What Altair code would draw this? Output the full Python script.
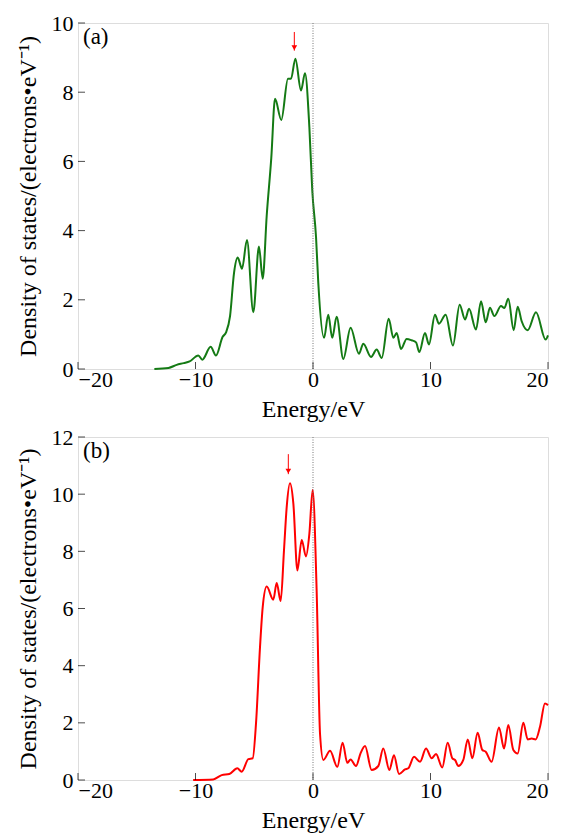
import altair as alt
import pandas as pd

# ---- data ----
a_energy = [-13.5, -12.3, -11.6, -11.0, -10.5, -9.76, -9.42, -8.71, -8.26, -7.69, -7.4, -7.06,
            -6.72, -6.41, -6.04, -5.62, -5.08, -4.6, -4.28, -3.94, -3.55, -3.23, -2.70, -2.13,
            -1.87, -1.5, -1.02, -0.68, -0.31, -0.06, 0.26, 0.45, 0.94, 1.3, 1.64, 2.01, 2.58,
            3.2, 3.91, 4.28, 4.94, 5.42, 5.85, 6.44, 6.84, 7.12, 7.49, 7.97, 8.4, 8.77, 9.05,
            9.53, 9.87, 10.38, 10.72, 11.29, 11.91, 12.48, 12.94, 13.28, 13.87, 14.3, 14.7,
            15.06, 15.43, 16.0, 16.28, 16.62, 17.08, 17.42, 17.76, 18.27, 18.98, 19.8, 20.0]
a_dos = [0.0, 0.03, 0.12, 0.17, 0.22, 0.39, 0.27, 0.64, 0.39, 0.93, 1.06, 1.53,
         2.78, 3.22, 2.9, 3.73, 1.64, 3.54, 2.61, 4.43, 6.1, 7.81, 7.2, 8.39,
         8.39, 8.97, 8.05, 8.55, 6.99, 5.15, 3.8, 2.49, 0.9, 1.57, 0.9, 1.51, 0.29,
         1.19, 0.44, 0.73, 0.35, 0.56, 0.32, 1.45, 0.9, 1.04, 0.58, 0.87, 0.83, 0.77, 0.49,
         1.04, 0.71, 1.57, 1.31, 1.57, 0.68, 1.86, 1.43, 1.74, 1.14, 1.96, 1.35,
         1.77, 1.53, 1.82, 1.76, 2.03, 1.12, 1.8, 1.38, 1.12, 1.64, 0.85, 0.97]

b_energy = [-10.2, -8.5, -7.77, -7.12, -6.44, -6.07, -5.5, -5.13, -4.85, -4.51, -4.28, -3.94,
            -3.38, -3.09, -2.75, -2.47, -2.24, -1.96, -1.67, -1.33, -0.96, -0.6, -0.31, -0.03,
            0.31, 0.6, 0.88, 1.45, 2.07, 2.52, 2.92, 3.2, 3.66, 4.06, 4.43, 4.99, 5.56, 5.98,
            6.5, 6.89, 7.32, 7.83, 8.11, 8.6, 9.11, 9.62, 10.1, 10.47, 11.0, 11.46, 11.86,
            12.09, 12.37, 12.79, 13.17, 13.56, 14.01, 14.41, 14.7, 15.2, 15.83, 16.26, 16.62,
            17.05, 17.42, 17.9, 18.27, 18.61, 18.95, 19.32, 19.74, 20.0]
b_dos = [0.0, 0.02, 0.17, 0.21, 0.41, 0.29, 0.73, 0.76, 1.98, 4.65, 6.05, 6.77,
         6.31, 6.89, 6.26, 8.03, 9.54, 10.38, 9.66, 7.33, 8.4, 7.82, 8.61, 10.15,
         6.63, 1.6, 0.7, 1.02, 0.46, 1.3, 0.6, 0.72, 0.49, 0.95, 1.19, 0.35, 0.49, 1.1,
         0.35, 0.87, 0.21, 0.37, 0.41, 0.81, 0.64, 1.1, 0.76, 0.91, 0.44, 1.3, 0.76,
         0.7, 0.49, 0.7, 1.42, 0.76, 1.65, 1.05, 0.99, 0.64, 1.84, 1.1, 1.92,
         1.05, 0.93, 2.0, 1.42, 1.45, 1.42, 1.86, 2.68, 2.62]

x_ticks = [-20, -10, 0, 10, 20]
a_y_ticks = [0, 2, 4, 6, 8, 10]
b_y_ticks = [0, 2, 4, 6, 8, 10, 12]

# arrows: energy, top of shaft, tip (in DOS units)
a_arrow = {"E": [-1.59], "D": [9.74], "tip": [9.2]}
b_arrow = {"E": [-2.1], "D": [11.4], "tip": [10.7]}

FONT = "Liberation Serif"
W = 470
Y_TITLE = "Density of states/(electrons\u2022eV\u207b\u00b9)"


def panel(energy, dos, color, ymax, yticks, label, arrow, height):
    xs = alt.Scale(domain=[-20, 20], nice=False, zero=False)
    ys = alt.Scale(domain=[0, ymax], nice=False)
    common = dict(ticks=False, domain=False, grid=False, labelFont=FONT, titleFont=FONT,
                  labelFontSize=22, titleFontSize=24, titleFontWeight="normal",
                  labelColor="black", titleColor="black")
    xaxis = alt.Axis(values=x_ticks, title="Energy/eV", labelPadding=0, titlePadding=7, **common)
    yaxis = alt.Axis(values=yticks, title=Y_TITLE, labelPadding=5, titlePadding=11, **common)
    X = lambda f: alt.X(f"{f}:Q", scale=xs, axis=xaxis, title="Energy/eV")
    Y = lambda f: alt.Y(f"{f}:Q", scale=ys, axis=yaxis, title=Y_TITLE)

    df = pd.DataFrame({"E": energy, "D": dos})
    line = alt.Chart(df).mark_line(color=color, strokeWidth=2, interpolate="monotone").encode(
        x=X("E"), y=Y("D"))
    fermi = alt.Chart(pd.DataFrame({"E": [0]})).mark_rule(
        color="#777777", strokeDash=[1, 1.5], strokeWidth=1
    ).encode(x=X("E"))

    ytk = alt.Chart(pd.DataFrame({"D": yticks})).mark_tick(
        orient="horizontal", size=7, thickness=1, color="black"
    ).encode(y=Y("D"), x=alt.value(3.5))
    xtk = alt.Chart(pd.DataFrame({"E": x_ticks})).mark_tick(
        orient="vertical", size=7, thickness=1, color="black"
    ).encode(x=X("E"), y=alt.value(height - 3.5))

    adf = pd.DataFrame(arrow)
    shaft = alt.Chart(adf).mark_rule(color="red", strokeWidth=1).encode(
        x=X("E"), y=Y("D"), y2="tip:Q")
    head = alt.Chart(adf).mark_point(
        shape="triangle-down", filled=True, size=32, color="red", opacity=1, yOffset=-3
    ).encode(x=X("E"), y=alt.Y("tip:Q", scale=ys, axis=yaxis, title=Y_TITLE))

    txt = alt.Chart(pd.DataFrame({"t": [label]})).mark_text(
        font=FONT, fontSize=23, align="left", baseline="middle", color="black"
    ).encode(text="t:N", x=alt.value(5), y=alt.value(14))

    return alt.layer(line, fermi, ytk, xtk, shaft, head, txt).properties(width=W, height=height)


pa = panel(a_energy, a_dos, "#147a14", 10, a_y_ticks, "(a)", a_arrow, 346)
pb = panel(b_energy, b_dos, "#ff0000", 12, b_y_ticks, "(b)", b_arrow, 343)

chart = alt.vconcat(pa, pb, spacing=3).properties(
    padding={"left": 7, "top": 3, "right": 5, "bottom": 5}
).configure_view(stroke="black", strokeWidth=1).configure(
    font=FONT
)

chart.save("out.html", embed_options={"renderer": "svg", "actions": False})
